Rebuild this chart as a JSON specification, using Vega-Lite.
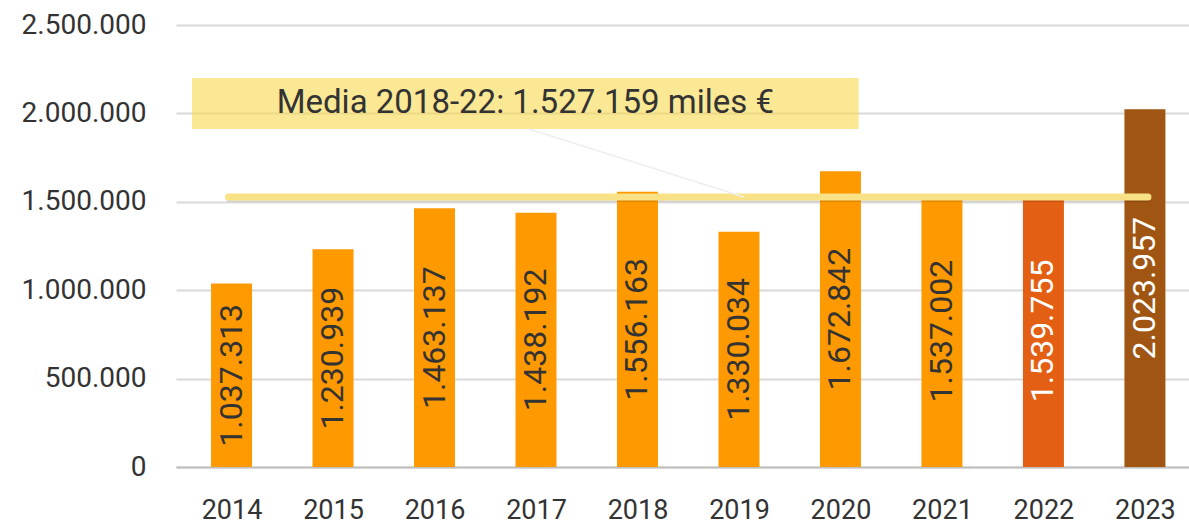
{
  "$schema": "https://vega.github.io/schema/vega-lite/v6.json",
  "width": 1013,
  "height": 442,
  "autosize": {"type": "none"},
  "padding": {"left": 176, "top": 25, "right": 0, "bottom": 57},
  "background": "white",
  "config": {
    "view": {"stroke": null},
    "font": "Roboto",
    "locale": {"number": {"decimal": ",", "thousands": ".", "grouping": [3], "currency": ["", " €"]}}
  },
  "datasets": {
    "bars": [
      {"year": 2014, "value": 1037313},
      {"year": 2015, "value": 1230939},
      {"year": 2016, "value": 1463137},
      {"year": 2017, "value": 1438192},
      {"year": 2018, "value": 1556163},
      {"year": 2019, "value": 1330034},
      {"year": 2020, "value": 1672842},
      {"year": 2021, "value": 1537002},
      {"year": 2022, "value": 1539755},
      {"year": 2023, "value": 2023957}
    ],
    "mean": [{"x": 2013.97, "x2": 2023.03, "y": 1527159}],
    "box": [{"x": 2013.61, "x2": 2020.18, "y": 2200000, "y2": 1912000, "xc": 2016.895, "yc": 2056000, "label": "Media 2018-22: 1.527.159 miles €"}],
    "leader": [{"x": 2016.93, "y": 1912000, "x2": 2019.05, "y2": 1527159}]
  },
  "layer": [
    {
      "data": {"name": "bars"},
      "mark": {"type": "bar", "size": 41},
      "encoding": {
        "x": {
          "field": "year", "type": "quantitative",
          "scale": {"domain": [2013.502, 2023.385], "nice": false, "zero": false},
          "axis": {
            "title": null, "values": [2014, 2015, 2016, 2017, 2018, 2019, 2020, 2021, 2022, 2023],
            "format": "d", "grid": false, "ticks": false, "domain": true,
            "domainColor": "#bfbfbf", "domainWidth": 2,
            "labelFontSize": 27, "labelColor": "#333333", "labelPadding": 30, "labelFont": "Roboto"
          }
        },
        "y": {
          "field": "value", "type": "quantitative",
          "scale": {"domain": [0, 2500000], "nice": false},
          "axis": {
            "title": null, "values": [0, 500000, 1000000, 1500000, 2000000, 2500000],
            "format": ",d", "grid": true, "gridColor": "#d9d9d9", "gridWidth": 2,
            "domain": false, "ticks": false, "labelPadding": 30,
            "labelFontSize": 28, "labelColor": "#333333", "labelFont": "Roboto"
          }
        },
        "color": {
          "condition": [
            {"test": "datum.year == 2022", "value": "#E35F14"},
            {"test": "datum.year == 2023", "value": "#A15513"}
          ],
          "value": "#FF9900"
        }
      }
    },
    {
      "data": {"name": "bars"},
      "transform": [{"calculate": "datum.value / 2", "as": "mid"}],
      "mark": {"type": "text", "angle": 270, "align": "center", "baseline": "middle", "fontSize": 32, "font": "Roboto"},
      "encoding": {
        "x": {"field": "year", "type": "quantitative"},
        "y": {"field": "mid", "type": "quantitative"},
        "text": {"field": "value", "type": "quantitative", "format": ",d"},
        "color": {
          "condition": {"test": "datum.year >= 2022", "value": "#ffffff"},
          "value": "#333333"
        }
      }
    },
    {
      "data": {"name": "mean"},
      "mark": {"type": "rule", "strokeWidth": 5, "strokeCap": "round", "color": "#000000", "opacity": 0.12, "yOffset": 2.5},
      "encoding": {
        "x": {"field": "x", "type": "quantitative"},
        "x2": {"field": "x2"},
        "y": {"field": "y", "type": "quantitative"}
      }
    },
    {
      "data": {"name": "mean"},
      "mark": {"type": "rule", "strokeWidth": 7, "strokeCap": "round", "color": "#F9E185"},
      "encoding": {
        "x": {"field": "x", "type": "quantitative"},
        "x2": {"field": "x2"},
        "y": {"field": "y", "type": "quantitative"}
      }
    },
    {
      "data": {"name": "box"},
      "mark": {"type": "rect", "fill": "#F8D94E", "opacity": 0.6},
      "encoding": {
        "x": {"field": "x", "type": "quantitative"},
        "x2": {"field": "x2"},
        "y": {"field": "y", "type": "quantitative"},
        "y2": {"field": "y2"}
      }
    },
    {
      "data": {"name": "box"},
      "mark": {"type": "text", "fontSize": 33, "font": "Roboto", "color": "#333333", "align": "center", "baseline": "middle"},
      "encoding": {
        "x": {"field": "xc", "type": "quantitative"},
        "y": {"field": "yc", "type": "quantitative"},
        "text": {"field": "label"}
      }
    },
    {
      "data": {"name": "leader"},
      "mark": {"type": "rule", "strokeWidth": 1.5, "color": "#eeeeee"},
      "encoding": {
        "x": {"field": "x", "type": "quantitative"},
        "x2": {"field": "x2"},
        "y": {"field": "y", "type": "quantitative"},
        "y2": {"field": "y2"}
      }
    }
  ]
}
